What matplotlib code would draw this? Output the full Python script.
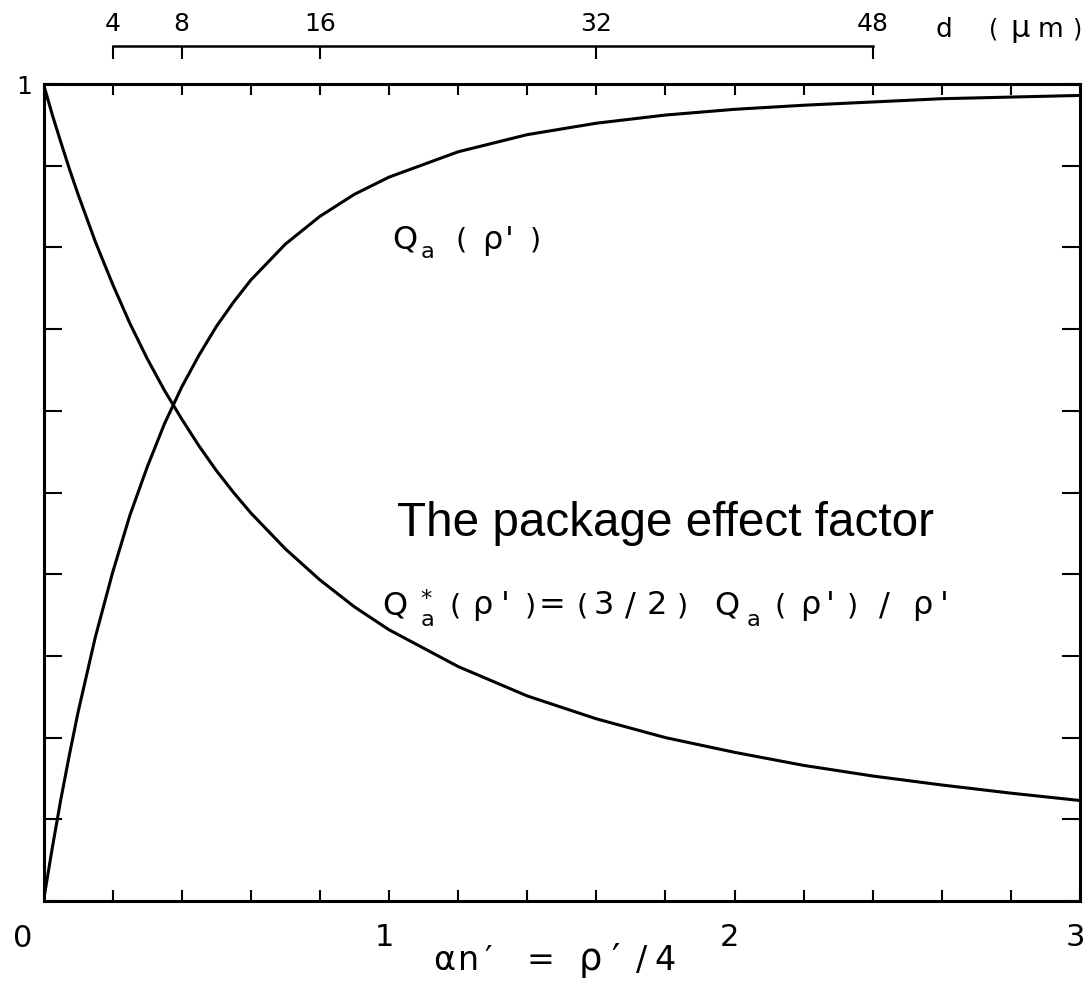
import matplotlib.pyplot as plt
import matplotlib.transforms as mtransforms
import numpy as np

# alpha*n' = rho'/4 along the bottom axis
an = [0, 0.025, 0.05, 0.075, 0.1, 0.15, 0.2, 0.25, 0.3, 0.35, 0.4, 0.45, 0.5,
      0.55, 0.6, 0.7, 0.8, 0.9, 1.0, 1.2, 1.4, 1.6, 1.8, 2.0, 2.2, 2.4, 2.6,
      2.8, 3.0]
# absorption efficiency Q_a(rho')
q_a = [0, 0.064, 0.124, 0.179, 0.231, 0.323, 0.402, 0.472, 0.531, 0.584,
       0.629, 0.668, 0.703, 0.733, 0.760, 0.804, 0.838, 0.865, 0.886, 0.917,
       0.938, 0.952, 0.962, 0.969, 0.974, 0.978, 0.982, 0.984, 0.986]
# package effect factor Q*_a(rho') = (3/2) Q_a(rho') / rho'
q_star = [1.0, 0.963, 0.929, 0.896, 0.865, 0.807, 0.755, 0.707, 0.664, 0.625,
          0.590, 0.557, 0.527, 0.500, 0.475, 0.431, 0.393, 0.360, 0.332, 0.287,
          0.251, 0.223, 0.200, 0.182, 0.166, 0.153, 0.142, 0.132, 0.123]

x_ticks = [0, 1, 2, 3]
x_ticklabels = ['', '1', '2', '3']
# cell diameter scale, d = 20 * alpha*n'
d_ticks = [4, 8, 16, 32, 48]

W, H = 1088, 989
plt.rcParams['mathtext.default'] = 'regular'


def fx(x):
    return x / W


def fy(y):
    return 1 - y / H


def glyphs(fig, items, base, size):
    # plotter style lettering: one glyph per slot
    for x, dy, s, k in items:
        fig.text(fx(x), fy(base + dy), s, fontsize=size * k,
                 ha='center', va='baseline')


fig = plt.figure(figsize=(W / 100, H / 100), dpi=100)
ax = fig.add_axes([fx(43.5), fy(901), fx(1080) - fx(43.5), fy(84) - fy(901)])

ax.plot(an, q_a, color='k', lw=2.2)
ax.plot(an, q_star, color='k', lw=2.2)
ax.set_xlim(0, 3)
ax.set_ylim(0, 1)
for sp in ax.spines.values():
    sp.set_linewidth(2.2)

ax.set_xticks(x_ticks)
ax.set_xticklabels(x_ticklabels)
ax.set_xticks(np.arange(0, 3.01, 0.2), minor=True)
ax.set_yticks(np.arange(0, 1.01, 0.1))
ax.set_yticklabels([''] * 10 + ['1'])
ax.tick_params(axis='x', which='both', direction='in', top=True,
               length=8, width=1.5, labelsize=22, pad=16)
ax.tick_params(axis='y', which='both', direction='in', right=True,
               length=13, width=1.5, labelsize=18, pad=8)
# numbers sit a little left of their ticks
shift = mtransforms.ScaledTranslation(-0.05, 0, fig.dpi_scale_trans)
for lbl in ax.get_xticklabels():
    lbl.set_transform(lbl.get_transform() + shift)
fig.text(fx(23), fy(947), '0', fontsize=22, ha='center', va='baseline')

# top scale in micrometres
sec = ax.secondary_xaxis((901 - 46) / 817,
                         functions=(lambda a: np.asarray(a) * 20,
                                    lambda d: np.asarray(d) / 20))
sec.set_xticks(d_ticks)
sec.tick_params(direction='in', length=9, width=1.5, labelsize=18, pad=7)
sec.spines['top'].set_bounds(d_ticks[0], d_ticks[-1])
sec.spines['top'].set_linewidth(1.8)
glyphs(fig, [(944, 0, 'd', 1), (994, 0, '(', 0.9), (1020, 0, 'μ', 1.15),
             (1050, 0, 'm', 1), (1077, 0, ')', 0.9)], 37, 19)

glyphs(fig, [(405, 0, 'Q', 1), (427, 9, 'a', 0.7), (461, 0, '(', 0.9),
             (492, 0, 'ρ', 1), (509, 0, "'", 1), (535, 0, ')', 0.9)],
       249, 23)

fig.text(fx(397), fy(536), 'The package effect factor', fontsize=34.3,
         family='Liberation Sans', va='baseline')

glyphs(fig, [(395, 0, 'Q', 1), (427, 4, r'$^{*}_{a}$', 1.0),
             (455, 0, '(', 0.9), (482, 0, 'ρ', 1), (505, 0, "'", 1),
             (530, 0, ')', 0.9), (552, 0, '=', 1), (582, 0, '(', 0.9),
             (604, 0, '3', 1), (630, 0, '/', 1), (657, 0, '2', 1),
             (682, 0, ')', 0.9), (727, 0, 'Q', 1), (754, 12, 'a', 0.7),
             (780, 0, '(', 0.9), (810, 0, 'ρ', 1), (830, 0, "'", 1),
             (852, 0, ')', 0.9), (884, 0, '/', 1), (922, 0, 'ρ', 1),
             (944, 0, "'", 1)],
       614, 23)

glyphs(fig, [(444, 0, 'α', 1), (469, 0, 'n', 1), (488, 0, '′', 1),
             (540, 0, '=', 1), (590, 0, 'ρ', 1.1), (615, 0, '′', 1.1),
             (642, 0, '/', 1), (665, 0, '4', 1)],
       970, 24)

fig.savefig('out.png', dpi=100)
